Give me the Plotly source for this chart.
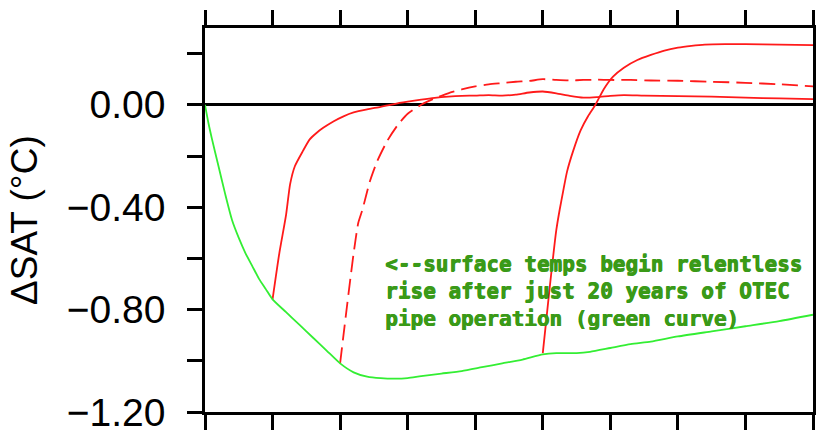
import plotly.graph_objects as go

# Years since start of OTEC pipe operation
green_x = [0, 0.5, 1, 2, 3, 4, 5, 6, 7, 8, 9, 10, 12, 14, 16, 18, 20, 22, 24, 26, 28, 30, 32, 35, 38, 41, 44, 47, 50,
           52, 55, 57, 60, 63, 66, 70, 75, 80, 85, 90]
green_y = [0.0, -0.07, -0.13, -0.24, -0.35, -0.45, -0.52, -0.58, -0.63, -0.68, -0.72, -0.76, -0.81, -0.86, -0.91,
           -0.96, -1.01, -1.045, -1.062, -1.068, -1.07, -1.068, -1.06, -1.05, -1.04, -1.025, -1.01, -0.995, -0.975,
           -0.97, -0.97, -0.965, -0.95, -0.935, -0.925, -0.905, -0.885, -0.865, -0.845, -0.82]

red1_x = [10, 11, 12, 12.6, 13.3, 14.5, 15.5, 16.5, 17.5, 19, 20.5, 22, 24, 26, 28, 30, 32, 34, 36, 38, 40, 42, 44,
          46, 48, 50, 52, 54, 56, 58, 60, 62, 65, 70, 75, 80, 85, 90]
red1_y = [-0.76, -0.58, -0.43, -0.31, -0.24, -0.18, -0.135, -0.11, -0.09, -0.065, -0.045, -0.03, -0.018, -0.008,
          0.003, 0.012, 0.02, 0.027, 0.032, 0.035, 0.036, 0.038, 0.036, 0.04, 0.048, 0.052, 0.045, 0.035, 0.028,
          0.03, 0.035, 0.038, 0.036, 0.034, 0.032, 0.028, 0.025, 0.022]

red2_x = [20, 21, 22, 22.7, 23.3, 24.4, 25.5, 27, 28.5, 30, 32, 34, 36, 38, 40, 42, 44, 46, 48, 50, 52, 54, 56, 58,
          60, 63, 66, 70, 75, 80, 85, 90]
red2_y = [-1.01, -0.79, -0.58, -0.46, -0.41, -0.30, -0.22, -0.14, -0.08, -0.035, 0.0, 0.025, 0.045, 0.06, 0.072,
          0.08, 0.085, 0.09, 0.093, 0.10, 0.097, 0.095, 0.097, 0.098, 0.097, 0.097, 0.095, 0.094, 0.09, 0.086,
          0.08, 0.072]

red3_x = [50, 51, 52, 52.5, 53, 53.6, 54.5, 55.6, 56.7, 57.8, 59, 60.4, 62, 64, 66, 68, 70, 72, 74, 77, 80, 85, 90]
red3_y = [-0.97, -0.72, -0.49, -0.41, -0.34, -0.26, -0.18, -0.10, -0.045, 0.0, 0.06, 0.11, 0.145, 0.175, 0.195,
          0.212, 0.223, 0.23, 0.235, 0.237, 0.237, 0.235, 0.233]

x_ticks = [0, 10, 20, 30, 40, 50, 60, 70, 80, 90]
y_ticks = [-1.2, -0.8, -0.4, 0.0]
y_tick_labels = ["−1.20", "−0.80", "−0.40", "0.00"]
y_minor_ticks = [-1.0, -0.6, -0.2, 0.2]

y_title = "ΔSAT (°C)"
note = ("<--surface temps begin relentless<br>"
        "rise after just 20 years of OTEC<br>"
        "pipe operation (green curve)")

RED = "#ff1a1a"
NOTE_GREEN = "#3a9a18"
fig = go.Figure()
fig.add_trace(go.Scatter(x=red1_x, y=red1_y, mode="lines", line=dict(color=RED, width=1.8, shape="spline", smoothing=0.6)))
fig.add_trace(go.Scatter(x=red2_x, y=red2_y, mode="lines", line=dict(color=RED, width=1.8, dash="16px,7px", shape="spline", smoothing=0.6)))
fig.add_trace(go.Scatter(x=red3_x, y=red3_y, mode="lines", line=dict(color=RED, width=1.8, shape="spline", smoothing=0.6)))
fig.add_trace(go.Scatter(x=green_x, y=green_y, mode="lines", line=dict(color="#33ee33", width=1.8, shape="spline", smoothing=0.6)))

fig.update_layout(
    width=816, height=433,
    margin=dict(l=205, r=3, t=28, b=21, autoexpand=False),
    paper_bgcolor="white", plot_bgcolor="white",
    showlegend=False,
    font=dict(family="Liberation Sans, Arial", color="black"),
)
fig.update_xaxes(
    range=[0, 90], tickmode="array", tickvals=x_ticks, showticklabels=False, automargin=False,
    ticks="outside", ticklen=15, tickwidth=2.5, tickcolor="black",
    showline=True, linecolor="black", linewidth=2.5, mirror="allticks",
    showgrid=False, zeroline=False,
)
fig.update_yaxes(
    range=[-1.2, 0.3], tickmode="array", tickvals=y_ticks, ticktext=y_tick_labels, automargin=False,
    ticklabeloverflow="allow",
    ticks="outside", ticklen=15, tickwidth=2.5, tickcolor="black",
    minor=dict(tickmode="array", tickvals=y_minor_ticks, ticks="outside", ticklen=15, tickwidth=2.5,
               tickcolor="black", showgrid=False),
    tickfont=dict(size=39, family="Liberation Sans, Arial", color="black"),
    ticklabelstandoff=14,
    showline=True, linecolor="black", linewidth=2.5, mirror="allticks",
    showgrid=False, zeroline=True, zerolinecolor="black", zerolinewidth=2.5,
)
fig.add_annotation(
    text=y_title, textangle=-90, xref="paper", yref="paper",
    x=(24 - 205) / 608, y=(412 - 220) / 384, xanchor="center", yanchor="middle", showarrow=False,
    font=dict(size=37, family="Liberation Sans, Arial", color="black"),
)
fig.add_annotation(
    text=note, xref="paper", yref="paper",
    x=(383 - 205) / 608, y=(412 - 291) / 384, xanchor="left", yanchor="middle", align="left",
    showarrow=False,
    font=dict(size=21, family="DejaVu Sans Mono", color=NOTE_GREEN, weight="bold",
              shadow="0.7px 0 0 " + NOTE_GREEN + ", 0 0.5px 0 " + NOTE_GREEN),
)
fig.write_html("out.html")
